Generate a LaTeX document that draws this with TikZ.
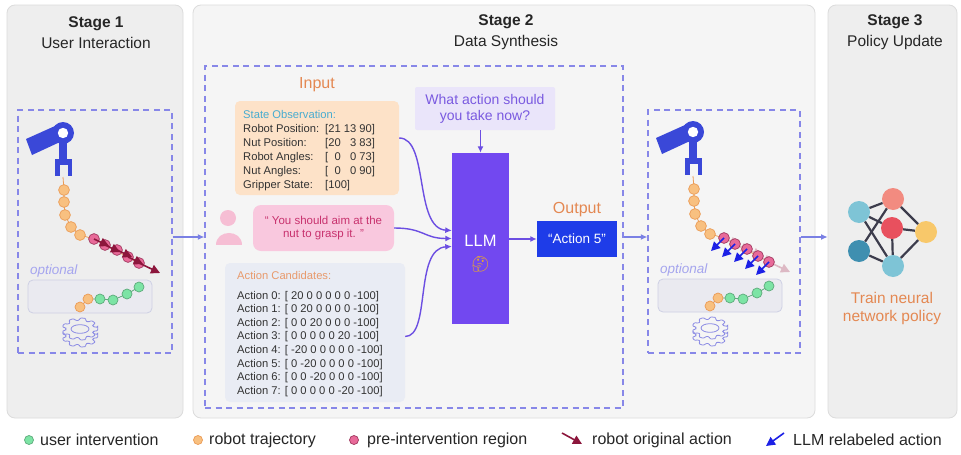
\documentclass[tikz,border=0pt]{standalone}
\usepackage{fontspec}
\setmainfont{Liberation Sans}
\newfontfamily\emojifont{Noto Emoji}
\usetikzlibrary{arrows.meta,positioning}
\definecolor{panelgray}{RGB}{238,238,238}
\definecolor{panellight}{RGB}{245,245,245}
\definecolor{panelline}{RGB}{220,220,220}
\definecolor{dashblue}{RGB}{135,135,232}
\definecolor{linkblue}{RGB}{122,128,228}
\definecolor{armblue}{RGB}{58,72,216}
\definecolor{trajorange}{RGB}{248,192,128}
\definecolor{trajline}{RGB}{235,155,85}
\definecolor{prepink}{RGB}{228,80,135}
\definecolor{usergreen}{RGB}{125,228,165}
\definecolor{origred}{RGB}{140,22,60}
\definecolor{relblue}{RGB}{28,32,230}
\definecolor{llmpurple}{RGB}{114,72,240}
\definecolor{flowpurple}{RGB}{108,78,226}
\definecolor{labelorange}{RGB}{228,136,82}
\definecolor{obsfill}{RGB}{253,226,200}
\definecolor{obsteal}{RGB}{72,172,208}
\definecolor{bubblepink}{RGB}{249,200,222}
\definecolor{quotepink}{RGB}{200,50,110}
\definecolor{personpink}{RGB}{246,190,212}
\definecolor{candfill}{RGB}{233,236,244}
\definecolor{askfill}{RGB}{234,229,250}
\definecolor{asktext}{RGB}{122,90,224}
\definecolor{outblue}{RGB}{30,60,232}
\definecolor{gearline}{RGB}{140,140,228}
\definecolor{optline}{RGB}{206,208,228}
\definecolor{optfill}{RGB}{234,234,240}
\definecolor{netgray}{RGB}{60,60,76}
\definecolor{emojiyellow}{RGB}{236,170,40}

% arm, trajectory, optional correction and input device
\newcommand{\armscene}[1]{%
  \fill[armblue] (26,139) -- (55,126) -- (60,142) -- (32,155) -- cycle;
  \fill[armblue] (59,133) rectangle (67,162);
  \fill[armblue] (63,133) circle (11);
  \fill[white] (63,133) circle (5.2);
  \fill[armblue] (55,159) rectangle (72,165);
  \fill[armblue] (55,159) rectangle (59.5,176);
  \fill[armblue] (67.5,159) rectangle (72,176);
  \draw[trajline, line width=0.8pt] (63,177) -- (64,190) -- (64,202) -- (65,215)
    -- (71,227) -- (80,235) -- (94,239) -- (139,263);
  \foreach \px/\py in {64/190,64/202,65/215,71/227,80/235}
    \draw[traj] (\px,\py) circle (5.4);
  \node[font=\fontsize{13.5}{15}\selectfont\itshape, text=dashblue!75,
    inner sep=0pt, anchor=west] (opt) at (30,271) {optional};
  \draw[draw=optline, fill=optfill, rounded corners=5pt, line width=0.8pt]
    (28,280) rectangle (152,313);
  \draw[trajline, line width=0.8pt] (80,307) -- (88,299);
  \draw[usergreen!75!black, line width=0.8pt] (88,299) -- (100,299) -- (113,300)
    -- (127,294) -- (139,287);
  \foreach \px/\py in {80/307,88/299}
    \draw[traj] (\px,\py) circle (5);
  \foreach \px/\py in {100/299,113/300,127/294,139/287}
    \draw[user] (\px,\py) circle (5);
  % input device
  \begin{scope}[shift={(80,336)}, yscale=0.62]
    \draw[gearline, line width=0.8pt, fill=#1, rounded corners=1pt] (-9:18)
      \foreach \a in {0,40,...,320} { -- (\a-9:18) -- (\a+9:18) -- (\a+14:14) -- (\a+26:14) } -- cycle;
  \end{scope}
  \begin{scope}[shift={(80,329)}, yscale=0.62]
    \draw[gearline, line width=0.8pt, fill=#1, rounded corners=1pt] (-9:18)
      \foreach \a in {0,40,...,320} { -- (\a-9:18) -- (\a+9:18) -- (\a+14:14) -- (\a+26:14) } -- cycle;
    \draw[gearline, line width=0.8pt] (0,0) ellipse (9 and 7);
  \end{scope}
}

\begin{document}
\begin{tikzpicture}[
    x=1pt, y=-1pt,
    panel/.style={draw=panelline, line width=0.8pt, rounded corners=8pt, inner sep=0pt},
    dashbox/.style={draw=dashblue, line width=1.3pt, dash pattern=on 6pt off 4.5pt, inner sep=0pt},
    stagetitle/.style={align=center, font=\fontsize{15.5}{21}\selectfont, text=black!85},
    seclabel/.style={text=labelorange, font=\fontsize{16}{18}\selectfont, inner sep=1pt},
    smalltext/.style={font=\fontsize{11.2}{13}\selectfont, text=black!80, inner sep=0pt, anchor=base west},
    card/.style={rounded corners=5pt, inner sep=0pt},
    flow/.style={-{Latex[length=6.5pt,width=6pt]}, draw=flowpurple, line width=1.4pt},
    link/.style={-{Latex[length=6.5pt,width=6pt]}, draw=linkblue, line width=1.4pt},
    traj/.style={draw=trajline, fill=trajorange, line width=0.7pt},
    pre/.style={draw=prepink!70!black, fill=prepink!85, line width=0.7pt},
    user/.style={draw=usergreen!75!black, fill=usergreen, line width=0.7pt},
    origarrow/.style={-{Triangle[length=9pt,width=9pt]}, draw=origred, line width=1.6pt},
    relarrow/.style={-{Triangle[length=9pt,width=9pt]}, draw=relblue, line width=1.6pt},
    neuron/.style={circle, minimum size=22pt, inner sep=0pt},
    synapse/.style={draw=netgray, line width=2.2pt},
    legendtext/.style={font=\fontsize{16}{18}\selectfont, text=black!85, inner sep=0pt, anchor=west}
  ]
  \fill[white] (0,0) rectangle (961,455);
  \useasboundingbox (0,0) rectangle (961,455);

  % stage panels
  \node[panel, fill=panelgray, minimum width=176pt, minimum height=413pt] (stage1) at (95,211.5) {};
  \node[panel, fill=panellight, minimum width=622pt, minimum height=413pt] (stage2) at (504,211.5) {};
  \node[panel, fill=panelgray, minimum width=129pt, minimum height=413pt] (stage3) at (892.5,211.5) {};
  \node[stagetitle] (title1) at (96,32.5) {\textbf{Stage 1}\\User Interaction};
  \node[stagetitle] (title2) at (506,32.5) {\textbf{Stage 2}\\Data Synthesis};
  \node[stagetitle] (title3) at (895,32.5) {\textbf{Stage 3}\\Policy Update};

  % dashed frames
  \node[dashbox, minimum width=154pt, minimum height=243pt] (dash1) at (95,231.5) {};
  \node[dashbox, minimum width=418pt, minimum height=342pt] (dash2) at (414,237) {};
  \node[dashbox, minimum width=152pt, minimum height=243pt] (dash3) at (724,231.5) {};
  \draw[link] (dash1.east |- dash2.west) -- (dash2.west);
  \draw[link] (dash2.east) -- (dash3.west |- dash2.east);
  \draw[link] (dash3.east |- dash2.east) -- (stage3.west |- dash2.east);

  % stage 1: user takes over
  \armscene{panelgray}
  \foreach \px/\py in {94/239,105/245,117/250,128/257,139/263}
    \draw[pre] (\px,\py) circle (5.4);
  \foreach \px/\py in {94/239,105/245,117/250,128/257}
    \draw[origarrow] (\px,\py) -- ++(15,7);
  \draw[origarrow] (139,263) -- (160,273);

  % stage 2: prompt inputs
  \node[seclabel] (inlbl) at (317,85) {Input};
  \node[card, fill=obsfill, minimum width=164pt, minimum height=94pt] (obs) at (317,148) {};
  \node[smalltext, text=obsteal] (obstitle) at (243,118) {State Observation:};
  \foreach \lab/\val [count=\r] in {Robot Position:/{[21 13 90]},
      Nut Position:/{[20 \phantom{1}3 83]}, Robot Angles:/{[\phantom{0}0 \phantom{0}0 73]},
      Nut Angles:/{[\phantom{0}0 \phantom{0}0 90]}, Gripper State:/{[100]}} {
    \node[smalltext] (obsl\r) at (243,118+14*\r) {\lab};
    \node[smalltext] (obsv\r) at (325,118+14*\r) {\val};
  }

  % user hint
  \fill[personpink] (228,218) circle (8);
  \fill[personpink] (216,245) .. controls (216,229) and (242,229) .. (242,245) -- cycle;
  \node[card, fill=bubblepink, rounded corners=8pt, minimum width=141pt, minimum height=46pt,
    align=center, text=quotepink, font=\fontsize{11.5}{13.5}\selectfont] (hint) at (323.5,228)
    {“ You should aim at the\\nut to grasp it. ”};

  % action candidates
  \node[card, fill=candfill, minimum width=180pt, minimum height=139pt] (cand) at (315,332.5) {};
  \node[smalltext, text=labelorange!85] (candtitle) at (237,279) {Action Candidates:};
  \foreach \v [count=\r from 0] in {{[ 20 0 0 0 0 0 -100]}, {[ 0 20 0 0 0 0 -100]},
      {[ 0 0 20 0 0 0 -100]}, {[ 0 0 0 0 0 20 -100]}, {[ -20 0 0 0 0 0 -100]},
      {[ 0 -20 0 0 0 0 -100]}, {[ 0 0 -20 0 0 0 -100]}, {[ 0 0 0 0 0 -20 -100]}} {
    \node[smalltext] (act\r) at (237,299+13.6*\r) {Action \r: \v};
  }

  % query, model and answer
  \node[card, rounded corners=2pt, fill=askfill, minimum width=140pt, minimum height=43pt,
    align=center, text=asktext, font=\fontsize{14}{16}\selectfont] (ask) at (485,108.5)
    {What action should\\you take now?};
  \node[fill=llmpurple, minimum width=57pt, minimum height=171pt, inner sep=0pt] (llm) at (480.5,238.5) {};
  \node[text=white, font=\fontsize{16.5}{18}\selectfont] (llmname) at (480.5,241) {LLM};
  \node[text=emojiyellow, font=\fontsize{15}{16}\selectfont] (llmface) at (480.5,265) {\emojifont 🤔};
  \node[fill=outblue, minimum width=80pt, minimum height=36pt, inner sep=0pt, text=white,
    font=\fontsize{13.5}{15}\selectfont] (out) at (577,239) {“Action 5”};
  \node[seclabel, above=3pt of out] (outlbl) {Output};

  \draw[flow] (llm.north |- ask.south) -- (llm.north);
  \draw[flow] (llm.east |- out.west) -- (out.west);
  \draw[flow] ([yshift=10pt]obs.east) .. controls +(30,0) and +(-38,-2) .. ([yshift=8pt]llm.west);
  \draw[flow] (hint.east) .. controls +(30,0) and +(-28,0) .. (llm.west);
  \draw[flow] ([yshift=-4pt]cand.east) .. controls +(26,0) and +(-38,2) .. ([yshift=-8pt]llm.west);

  % stage 2: relabeled actions
  \begin{scope}[shift={(630,-1)}]
    \armscene{panellight}
    \foreach \px/\py in {94/239,105/245,117/250,128/257}
      \draw[origarrow, draw=origred!30] (\px,\py) -- ++(15,7);
    \draw[origarrow, draw=origred!30] (139,263) -- (160,273);
    \foreach \px/\py in {94/239,105/245,117/250,128/257,139/263}
      \draw[pre] (\px,\py) circle (5.4);
    \foreach \px/\py in {94/239,105/245,117/250,128/257,139/263}
      \draw[relarrow] (\px,\py) -- ++(-13,13);
  \end{scope}

  % stage 3: policy network
  \node[neuron, fill={rgb,255:red,126;green,196;blue,214}] (ntl) at (859,212) {};
  \node[neuron, fill={rgb,255:red,242;green,139;blue,128}] (ntop) at (893,199) {};
  \node[neuron, fill={rgb,255:red,232;green,80;blue,94}] (nmid) at (892,228) {};
  \node[neuron, fill={rgb,255:red,248;green,200;blue,106}] (nrgt) at (926,232) {};
  \node[neuron, fill={rgb,255:red,63;green,143;blue,176}] (nlft) at (859,251) {};
  \node[neuron, fill={rgb,255:red,126;green,196;blue,214}] (nbot) at (893,266) {};
  \foreach \a/\b in {ntl/ntop, ntl/nmid, ntl/nbot, nlft/ntop, nlft/nbot, nmid/nbot,
      ntop/nrgt, nmid/nrgt, nbot/nrgt}
    \draw[synapse] (\a) -- (\b);
  \node[align=center, text=labelorange, font=\fontsize{15.5}{18}\selectfont] (train) at (892,308)
    {Train neural\\network policy};

  % legend
  \draw[user] (29,440) circle (4.5);
  \node[legendtext] (lguser) at (40,440) {user intervention};
  \draw[traj] (198,440) circle (4.5);
  \node[legendtext] (lgtraj) at (209,440) {robot trajectory};
  \draw[pre] (354,440) circle (4.5);
  \node[legendtext] (lgpre) at (367,440) {pre-intervention region};
  \draw[origarrow] (562,433) -- (582,444);
  \node[legendtext] (lgorig) at (592,440) {robot original action};
  \draw[relarrow] (784,433) -- (766,446);
  \node[legendtext] (lgrel) at (793,440) {LLM relabeled action};
\end{tikzpicture}
\end{document}
